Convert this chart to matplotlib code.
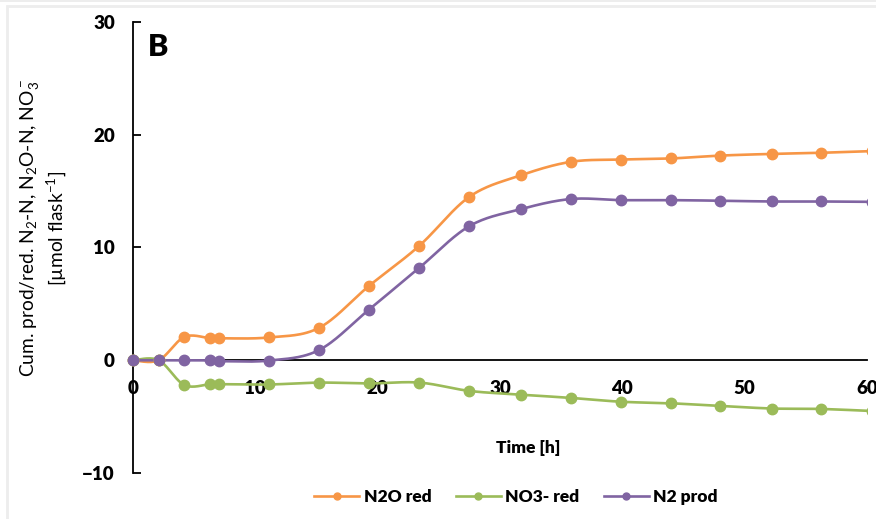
import numpy as np
import matplotlib
matplotlib.use("Agg")
import matplotlib.pyplot as plt
from matplotlib.patches import Rectangle
from matplotlib.lines import Line2D

plt.rcParams['font.family'] = ['Lato', 'DejaVu Sans']
plt.rcParams['mathtext.fontset'] = 'custom'
plt.rcParams['mathtext.rm'] = 'Lato'
plt.rcParams['mathtext.it'] = 'Lato:italic'
plt.rcParams['mathtext.bf'] = 'Lato:bold'

# Sampling times [h] and cumulative amounts [umol flask-1]
time_h = [0, 2.1, 4.2, 6.3, 7.0, 11.1, 15.2, 19.3, 23.4, 27.5, 31.7, 35.8,
          39.9, 44.0, 48.0, 52.2, 56.2, 60.4]
n2o_red = [0, 0, 2.07, 1.95, 1.95, 2.02, 2.87, 6.6, 10.15, 14.5, 16.4, 17.6,
           17.8, 17.9, 18.15, 18.3, 18.4, 18.55]
no3_red = [0, 0, -2.2, -2.12, -2.12, -2.15, -1.98, -2.06, -1.98, -2.72, -3.05,
           -3.34, -3.68, -3.82, -4.05, -4.28, -4.32, -4.5]
n2_prod = [0, 0, 0, -0.02, -0.08, -0.03, 0.9, 4.5, 8.2, 11.9, 13.4, 14.3,
           14.2, 14.2, 14.15, 14.08, 14.08, 14.05]

series_names = ["N2O red", "NO3- red", "N2 prod"]
series_colors = ["#F79646", "#9BBB59", "#8064A2"]
x_ticks = [0, 10, 20, 30, 40, 50, 60]
y_ticks = [-10, 0, 10, 20, 30]


def smooth(x, y, n=30):
    """Catmull-Rom style Bezier smoothing through every point."""
    x = np.asarray(x, float)
    y = np.asarray(y, float)
    px = np.concatenate([[x[0]], x, [x[-1]]])
    py = np.concatenate([[y[0]], y, [y[-1]]])
    xs, ys = [], []
    t = np.linspace(0, 1, n)
    for i in range(1, len(px) - 2):
        p0 = np.array([px[i], py[i]])
        p3 = np.array([px[i + 1], py[i + 1]])
        c1 = p0 + (np.array([px[i + 1], py[i + 1]]) - np.array([px[i - 1], py[i - 1]])) / 6
        c2 = p3 - (np.array([px[i + 2], py[i + 2]]) - np.array([px[i], py[i]])) / 6
        b = ((1 - t) ** 3)[:, None] * p0 + (3 * (1 - t) ** 2 * t)[:, None] * c1 \
            + (3 * (1 - t) * t ** 2)[:, None] * c2 + (t ** 3)[:, None] * p3
        xs.append(b[:, 0])
        ys.append(b[:, 1])
    return np.concatenate(xs), np.concatenate(ys)


fig = plt.figure(figsize=(8.76, 5.19), dpi=100)
W, H = 876, 519
ax = fig.add_axes([133 / W, (H - 473) / H, (867 - 133) / W, (473 - 22) / H])

# Frame around the chart area
fig.patches.append(Rectangle((7 / W, -0.1), 1.2, (H - 6) / H + 0.1,
                             transform=fig.transFigure, fill=False,
                             edgecolor="#ededed", linewidth=2))
fig.patches.append(Rectangle((0, (H - 2) / H), 1, 2 / H,
                             transform=fig.transFigure, facecolor="#ededed",
                             edgecolor="none"))

clip = Rectangle((-0.05, -0.05), 1.05, 1.1, transform=ax.transAxes)

handles = []
for vals, name, col in zip([n2o_red, no3_red, n2_prod], series_names, series_colors):
    sx, sy = smooth(time_h, vals)
    ln, = ax.plot(sx, sy, color=col, lw=1.9, zorder=3, solid_capstyle='round')
    mk, = ax.plot(time_h, vals, 'o', color=col, ms=7.5, zorder=4)
    ln.set_clip_path(clip)
    mk.set_clip_path(clip)
    handles.append(Line2D([], [], color=col, lw=1.9, marker='o', ms=5))

ax.set_xlim(0, 60)
ax.set_ylim(-10, 30)
ax.set_xticks(x_ticks)
ax.set_yticks(y_ticks)

for s in ['top', 'right']:
    ax.spines[s].set_visible(False)
ax.spines['bottom'].set_position(('data', 0))
ax.spines['bottom'].set_linewidth(1.3)
ax.spines['left'].set_linewidth(1.3)

ax.tick_params(axis='y', direction='in', length=6, width=1.3, pad=13,
               labelsize=13.5)
ax.tick_params(axis='x', length=0, pad=14, labelsize=13.5)
for lab in ax.get_xticklabels() + ax.get_yticklabels():
    lab.set_fontweight('heavy')
for lab in ax.get_xticklabels():
    lab.set_clip_on(False)

ax.text(0.02, 0.975, "B", transform=ax.transAxes, fontsize=22,
        fontweight='heavy', va='top', ha='left')

fig.text(528 / W, (H - 448) / H, "Time [h]", fontsize=12.5, fontweight='heavy',
         ha='center', va='center')

fig.text(43 / W, (H - 228) / H,
         "Cum. prod/red. N$_2$-N, N$_2$O-N, NO$_3^-$\n[µmol flask$^{-1}$]",
         rotation=90, ha='center', va='center', fontsize=13.8,
         multialignment='center', linespacing=1.15)

fig.legend(handles, series_names, loc='center', ncol=3,
           bbox_to_anchor=(516 / W, (H - 497) / H), frameon=False,
           prop={'weight': 'heavy', 'size': 12.5}, handlelength=2.6,
           columnspacing=1.4, handletextpad=0.25)

fig.savefig("out.png", dpi=100)
